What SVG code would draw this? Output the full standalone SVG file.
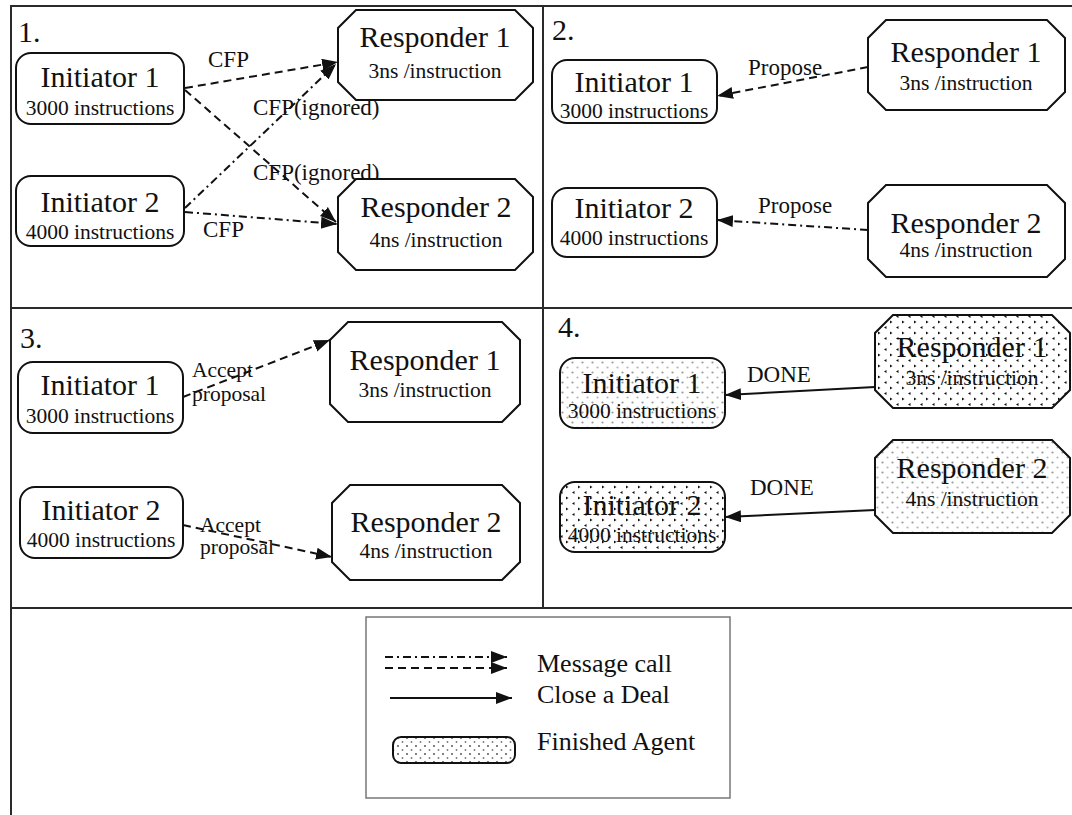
<svg xmlns="http://www.w3.org/2000/svg" width="1072" height="815" viewBox="0 0 1072 815">
  <style>
    .frame { stroke: #2a2a2a; stroke-width: 2; fill: none; }
    .node { stroke: #111; stroke-width: 2; fill: #fff; }
    .light { fill: url(#dotsLight); }
    .dark { fill: url(#dotsDark); }
    text { font-family: "Liberation Serif", "Times New Roman", serif; fill: #111; }
    .title { font-size: 30px; text-anchor: middle; }
    .sub { font-size: 21.5px; text-anchor: middle; }
    .num { font-size: 30px; }
    .lbl { font-size: 23px; }
    .lbl2 { font-size: 21.5px; }
    .leg { font-size: 26px; }
    .msg { stroke: #111; stroke-width: 2; fill: none; marker-end: url(#arrow); }
    .dash { stroke-dasharray: 8 5; }
    .dashdot { stroke-dasharray: 8 4 2 4; }
  </style>
  <defs>
    <marker id="arrow" markerUnits="userSpaceOnUse" markerWidth="17" markerHeight="13" refX="16" refY="6" orient="auto">
      <path d="M0,0 L16,6 L0,12 z" fill="#111"/>
    </marker>
    <pattern id="dotsLight" patternUnits="userSpaceOnUse" width="10" height="10">
      <rect width="10" height="10" fill="#fff"/>
      <circle cx="2.5" cy="2.5" r="1.1" fill="#9a9a9a"/>
      <circle cx="7.5" cy="7.5" r="1.1" fill="#b5b5b5"/>
    </pattern>
    <pattern id="dotsDark" patternUnits="userSpaceOnUse" width="12" height="11">
      <rect width="12" height="11" fill="#fff"/>
      <path d="M2,1.5 L4.5,3 L2,4.5 z" fill="#111"/>
      <path d="M10.5,7 L8,8.5 L10.5,10 z" fill="#111"/>
    </pattern>
    <pattern id="dotsLegend" patternUnits="userSpaceOnUse" width="9" height="8">
      <rect width="9" height="8" fill="#fff"/>
      <circle cx="2" cy="2" r="0.9" fill="#444"/>
      <circle cx="6.5" cy="6" r="0.9" fill="#777"/>
    </pattern>
  </defs>

  <!-- frame and panel dividers -->
  <g id="frame">
    <line class="frame" x1="10" y1="6" x2="1072" y2="6"/>
    <line class="frame" x1="11" y1="6" x2="11" y2="815"/>
    <line class="frame" x1="543" y1="6" x2="543" y2="608"/>
    <line class="frame" x1="11" y1="308" x2="1072" y2="308"/>
    <line class="frame" x1="11" y1="608" x2="1072" y2="608"/>
  </g>

  <g id="panel-numbers">
    <text class="num" x="18" y="42">1.</text>
    <text class="num" x="552" y="40">2.</text>
    <text class="num" x="20" y="348">3.</text>
    <text class="num" x="558" y="337">4.</text>
  </g>

  <!-- connectors -->
  <g id="connectors">
    <!-- panel 1 -->
    <line class="msg dash" x1="185" y1="88" x2="338" y2="62"/>
    <line class="msg dashdot" x1="185" y1="208" x2="336" y2="64"/>
    <line class="msg dash" x1="185" y1="90" x2="336" y2="222"/>
    <line class="msg dashdot" x1="185" y1="212" x2="337" y2="224"/>
    <text class="lbl" x="208" y="67">CFP</text>
    <text class="lbl" x="253" y="115">CFP(ignored)</text>
    <text class="lbl" x="253" y="180">CFP(ignored)</text>
    <text class="lbl" x="203" y="237">CFP</text>
    <!-- panel 2 -->
    <line class="msg dash" x1="868" y1="67" x2="717" y2="96"/>
    <line class="msg dashdot" x1="868" y1="230" x2="717" y2="220"/>
    <text class="lbl" x="748" y="75">Propose</text>
    <text class="lbl" x="758" y="213">Propose</text>
    <!-- panel 3 -->
    <line class="msg dash" x1="183" y1="397" x2="330" y2="340"/>
    <line class="msg dash" x1="183" y1="525" x2="332" y2="557"/>
    <text class="lbl2" x="192" y="377">Accept</text>
    <text class="lbl2" x="192" y="401">proposal</text>
    <text class="lbl2" x="200" y="532">Accept</text>
    <text class="lbl2" x="200" y="554">proposal</text>
    <!-- panel 4 -->
    <line class="msg" x1="875" y1="387" x2="725" y2="395"/>
    <line class="msg" x1="875" y1="510" x2="725" y2="517"/>
    <text class="lbl" x="747" y="382">DONE</text>
    <text class="lbl" x="750" y="495">DONE</text>
  </g>

  <!-- panel 1 -->
  <g id="p1-initiator1">
    <rect class="node" x="16" y="53" width="168" height="71" rx="15"/>
    <text class="title" x="100" y="87">Initiator 1</text>
    <text class="sub" x="100" y="115">3000 instructions</text>
  </g>
  <g id="p1-initiator2">
    <rect class="node" x="16" y="176" width="168" height="70" rx="15"/>
    <text class="title" x="100" y="212">Initiator 2</text>
    <text class="sub" x="100" y="239">4000 instructions</text>
  </g>
  <g id="p1-responder1">
    <polygon class="node" points="356,10 515,10 533,28 533,82 515,100 356,100 338,82 338,28"/>
    <text class="title" x="435" y="47">Responder 1</text>
    <text class="sub" x="435" y="78">3ns /instruction</text>
  </g>
  <g id="p1-responder2">
    <polygon class="node" points="356,179 515,179 533,197 533,252 515,270 356,270 338,252 338,197"/>
    <text class="title" x="436" y="217">Responder 2</text>
    <text class="sub" x="436" y="247">4ns /instruction</text>
  </g>

  <!-- panel 2 -->
  <g id="p2-initiator1">
    <rect class="node" x="552" y="60" width="165" height="63" rx="15"/>
    <text class="title" x="634" y="92">Initiator 1</text>
    <text class="sub" x="634" y="118">3000 instructions</text>
  </g>
  <g id="p2-initiator2">
    <rect class="node" x="552" y="188" width="165" height="69" rx="15"/>
    <text class="title" x="634" y="218">Initiator 2</text>
    <text class="sub" x="634" y="245">4000 instructions</text>
  </g>
  <g id="p2-responder1">
    <polygon class="node" points="886,20 1047,20 1065,38 1065,92 1047,110 886,110 868,92 868,38"/>
    <text class="title" x="966" y="62">Responder 1</text>
    <text class="sub" x="966" y="90">3ns /instruction</text>
  </g>
  <g id="p2-responder2">
    <polygon class="node" points="886,185 1047,185 1065,203 1065,259 1047,277 886,277 868,259 868,203"/>
    <text class="title" x="966" y="233">Responder 2</text>
    <text class="sub" x="966" y="257">4ns /instruction</text>
  </g>

  <!-- panel 3 -->
  <g id="p3-initiator1">
    <rect class="node" x="18" y="362" width="165" height="71" rx="15"/>
    <text class="title" x="100" y="395">Initiator 1</text>
    <text class="sub" x="100" y="423">3000 instructions</text>
  </g>
  <g id="p3-initiator2">
    <rect class="node" x="20" y="487" width="163" height="71" rx="15"/>
    <text class="title" x="101" y="520">Initiator 2</text>
    <text class="sub" x="101" y="547">4000 instructions</text>
  </g>
  <g id="p3-responder1">
    <polygon class="node" points="348,322 502,322 520,340 520,404 502,422 348,422 330,404 330,340"/>
    <text class="title" x="425" y="370">Responder 1</text>
    <text class="sub" x="425" y="397">3ns /instruction</text>
  </g>
  <g id="p3-responder2">
    <polygon class="node" points="350,485 502,485 520,503 520,562 502,580 350,580 332,562 332,503"/>
    <text class="title" x="426" y="532">Responder 2</text>
    <text class="sub" x="426" y="558">4ns /instruction</text>
  </g>

  <!-- panel 4: finished agents -->
  <g id="p4-initiator1">
    <rect class="node light" x="560" y="358" width="165" height="70" rx="15"/>
    <text class="title" x="642" y="393">Initiator 1</text>
    <text class="sub" x="642" y="418">3000 instructions</text>
  </g>
  <g id="p4-initiator2">
    <rect class="node dark" x="560" y="482" width="165" height="70" rx="15"/>
    <text class="title" x="642" y="515">Initiator 2</text>
    <text class="sub" x="642" y="542">4000 instructions</text>
  </g>
  <g id="p4-responder1">
    <polygon class="node dark" points="893,315 1052,315 1070,333 1070,390 1052,408 893,408 875,390 875,333"/>
    <text class="title" x="972" y="357">Responder 1</text>
    <text class="sub" x="972" y="385">3ns /instruction</text>
  </g>
  <g id="p4-responder2">
    <polygon class="node light" points="893,440 1052,440 1070,458 1070,515 1052,533 893,533 875,515 875,458"/>
    <text class="title" x="972" y="478">Responder 2</text>
    <text class="sub" x="972" y="506">4ns /instruction</text>
  </g>

  <!-- legend -->
  <g id="legend">
    <rect x="366" y="617" width="364" height="181" fill="#fff" stroke="#777" stroke-width="1.5"/>
    <line class="msg dashdot" x1="385" y1="657" x2="507" y2="657"/>
    <line class="msg dash" x1="385" y1="668" x2="507" y2="668"/>
    <line class="msg" x1="390" y1="698" x2="512" y2="698"/>
    <rect x="393" y="737" width="122" height="26" rx="8" fill="url(#dotsLegend)" stroke="#111" stroke-width="2"/>
    <text class="leg" x="537" y="672">Message call</text>
    <text class="leg" x="537" y="703">Close a Deal</text>
    <text class="leg" x="537" y="750">Finished Agent</text>
  </g>
</svg>
